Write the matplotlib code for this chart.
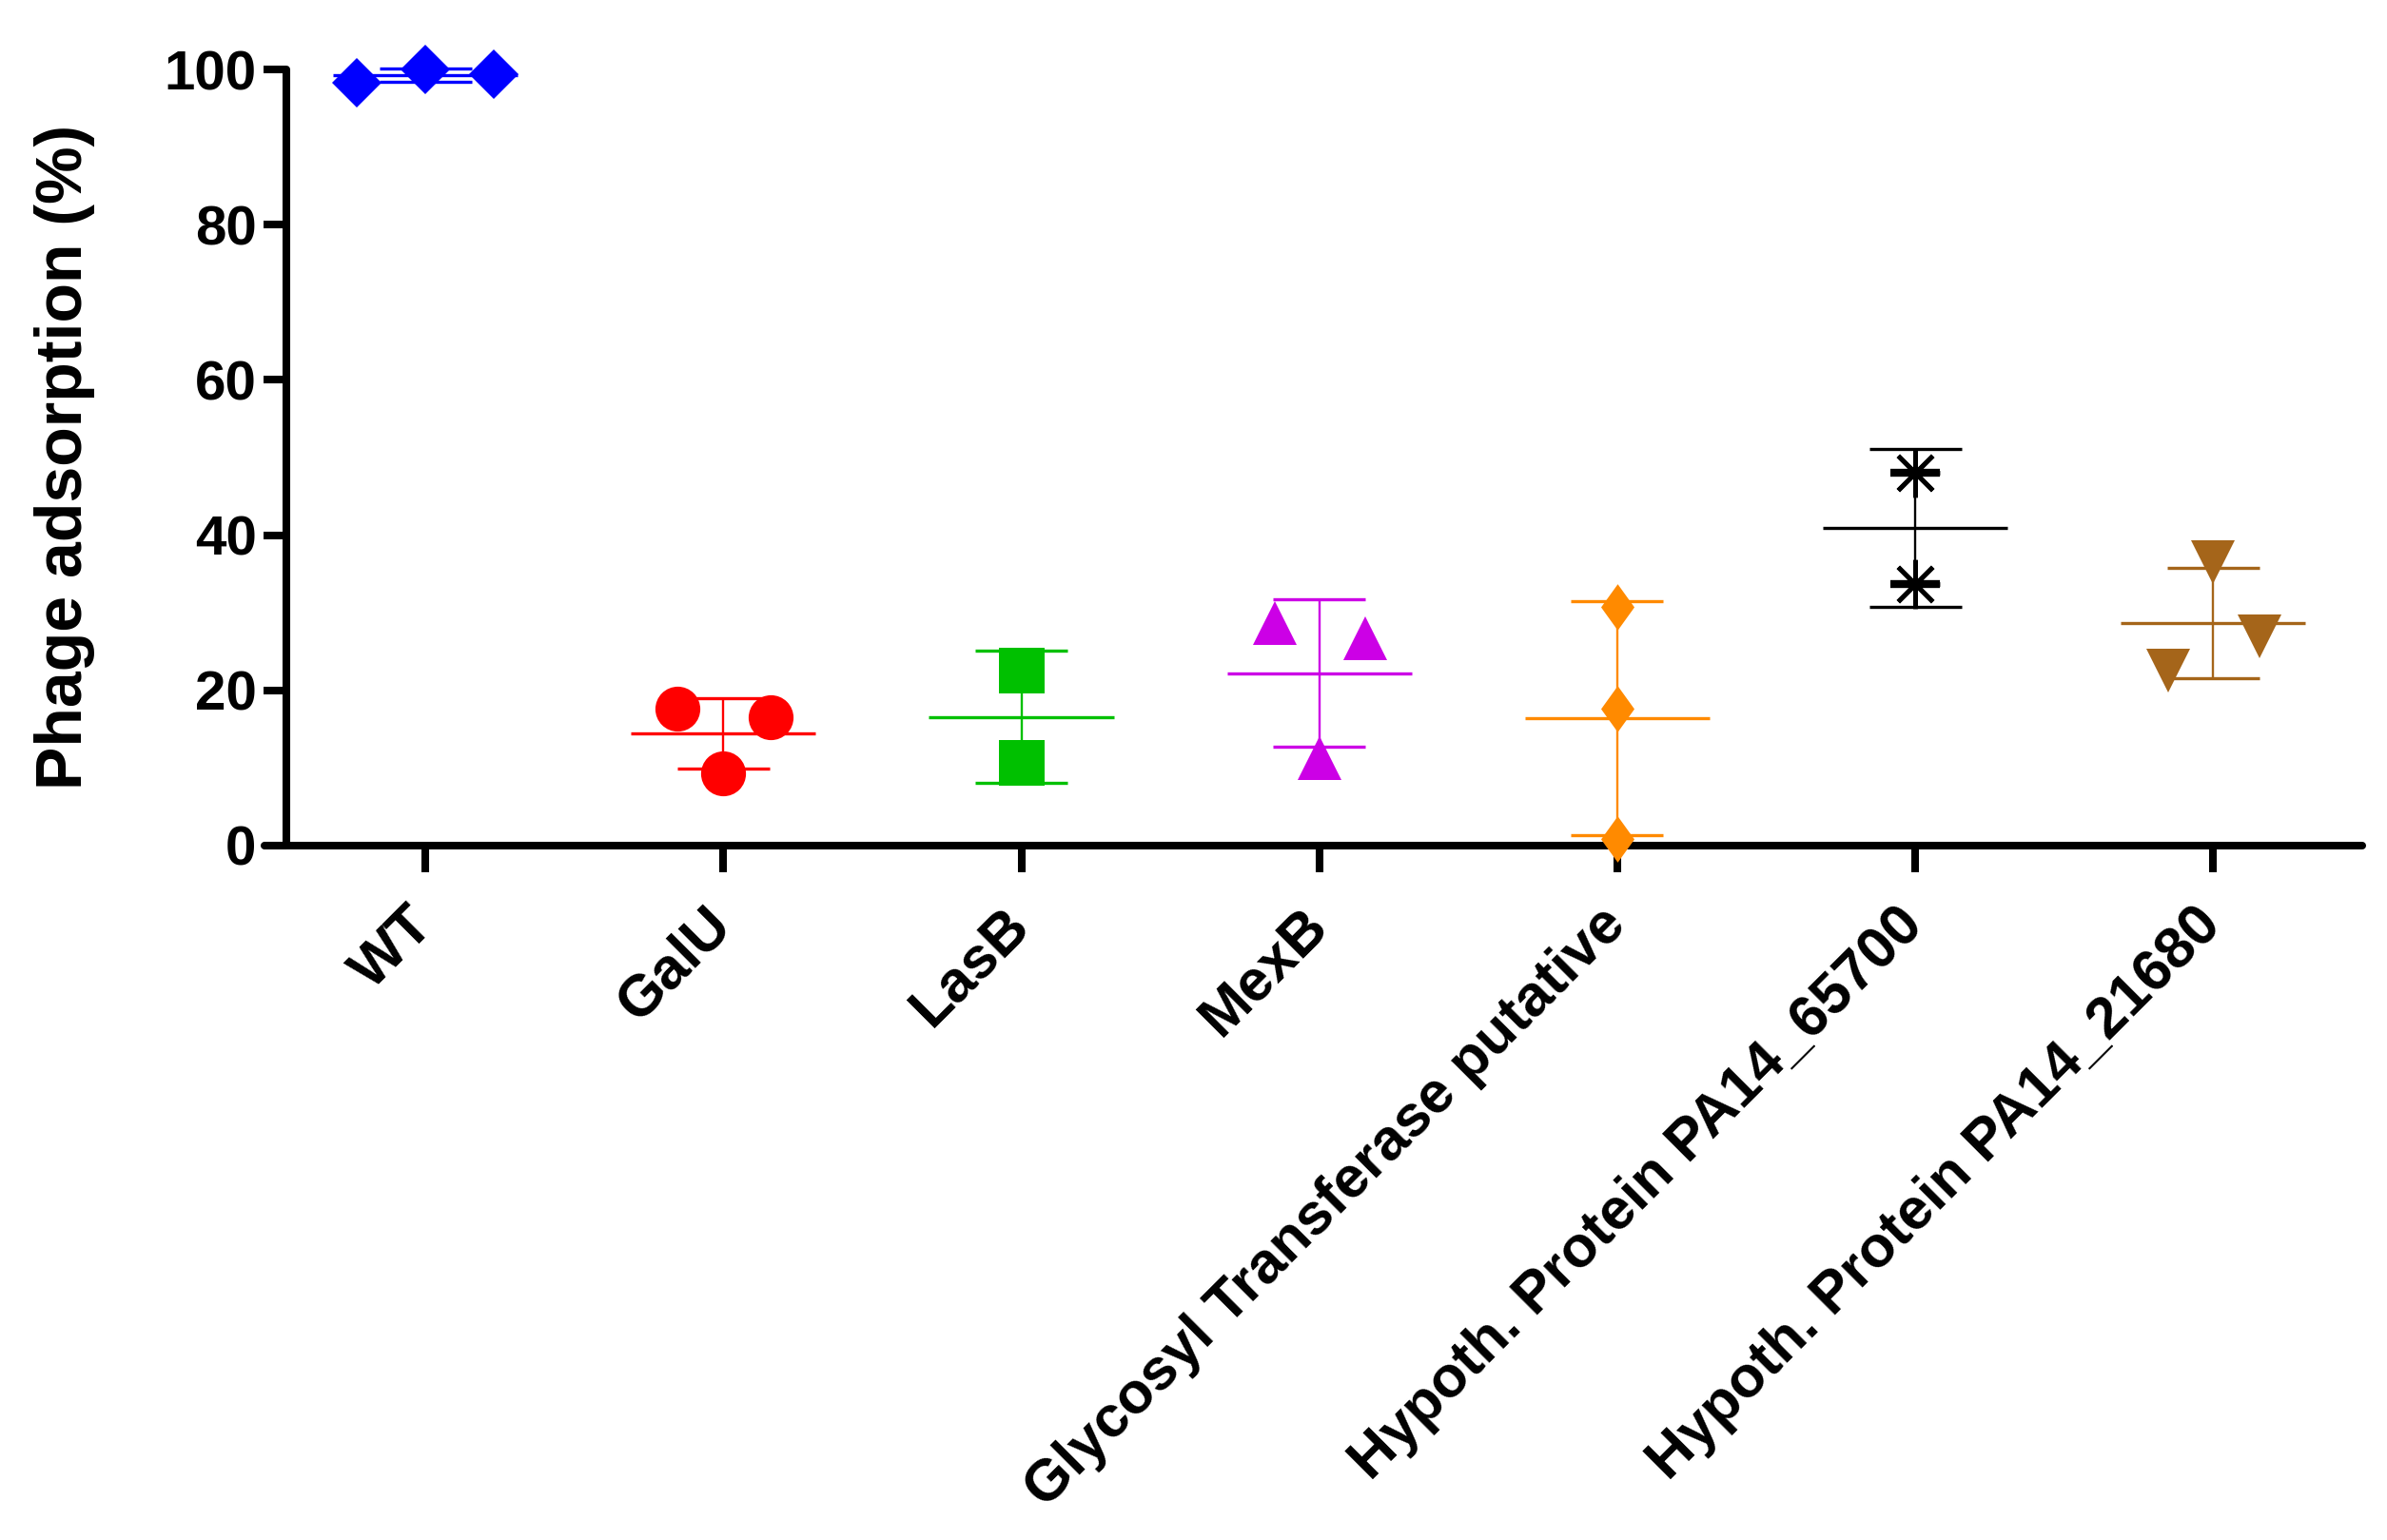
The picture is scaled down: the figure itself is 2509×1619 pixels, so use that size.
import numpy as np
import matplotlib.pyplot as plt

plt.rcParams['font.family'] = ['Liberation Sans', 'DejaVu Sans']
plt.rcParams['font.weight'] = 'bold'

groups = ["WT", "GalU", "LasB", "MexB", "Glycosyl Transferase putative",
          "Hypoth. Protein PA14_65700", "Hypoth. Protein PA14_21680"]

# adsorption values (%) per replicate
wt = [98.3, 100.0, 99.4]
galu = [17.6, 9.3, 16.6]
lasb = [22.6, 10.6]
mexb = [28.7, 11.3, 26.7]
glyco = [30.8, 17.6, 0.8]
h65700 = [48.1, 33.7]
h21680 = [36.5, 22.5, 27.0]

yticks = [0, 20, 40, 60, 80, 100]

values = [wt, galu, lasb, mexb, glyco, h65700, h21680]
jitter = [[-0.23, 0, 0.23], [-0.155, 0, 0.16], [0, 0], [-0.15, 0, 0.155],
          [0, 0, 0], [0, 0], [0, -0.15, 0.155]]
colors = ["#0000FF", "#FF0000", "#00C000", "#CC00E6", "#FF8A00", "#000000", "#A5651A"]
thin_diamond = [(0, 1), (0.72, 0), (0, -1), (-0.72, 0), (0, 1)]
markers = ["D", "o", "s", "^", thin_diamond, (8, 2, 0), "v"]
sizes = [26, 34, 34, 33, 35, 37, 33]

fig = plt.figure(figsize=(25.09, 16.19), dpi=100)
ax = fig.add_axes([0.1108, 0.4509, 0.8788, 0.504])

for i, vals in enumerate(values):
    vals = np.array(vals)
    m = vals.mean()
    s = vals.std(ddof=1)
    c = colors[i]
    ax.hlines(m, i - 0.31, i + 0.31, color=c, lw=2.4, zorder=2)
    ax.hlines([m - s, m + s], i - 0.155, i + 0.155, color=c, lw=2.4, zorder=2, clip_on=False)
    ax.vlines(i, m - s, m + s, color=c, lw=1.7, zorder=2, clip_on=False)
    x = i + np.array(jitter[i])
    if i == 5:
        ax.plot(x, vals, ls='none', marker=markers[i], ms=sizes[i], mec=c, mew=3.5,
                clip_on=False, zorder=3)
        ax.plot(x, vals, ls='none', marker='_', ms=sizes[i], mec=c, mew=6,
                clip_on=False, zorder=3)
    else:
        ax.plot(x, vals, ls='none', marker=markers[i], ms=sizes[i], color=c, mew=0,
                clip_on=False, zorder=3)

ax.set_xlim(-0.54, 6.5)
ax.set_ylim(0, 100)
ax.spines['top'].set_visible(False)
ax.spines['right'].set_visible(False)
ax.spines['left'].set_position(('data', -0.465))
ax.spines['left'].set_linewidth(5.8)
ax.spines['bottom'].set_linewidth(5.8)
ax.spines['left'].set_capstyle('round')
ax.spines['bottom'].set_capstyle('round')

ax.set_yticks(yticks)
ax.set_yticklabels([str(t) for t in yticks], fontsize=42, fontweight='bold')
ax.set_xticks(range(len(groups)))
ax.set_xticklabels(groups, fontsize=44, fontweight='bold', rotation=45,
                   ha='right', va='center', rotation_mode='anchor')
ax.tick_params(axis='y', length=17, width=5.8, pad=6)
ax.tick_params(axis='x', length=20, width=5.8, pad=34)

fig.text(0.027, 0.703, "Phage adsorption (%)", fontsize=49, fontweight='bold',
         rotation=90, ha='center', va='center')

fig.savefig("out.png", dpi=100)
